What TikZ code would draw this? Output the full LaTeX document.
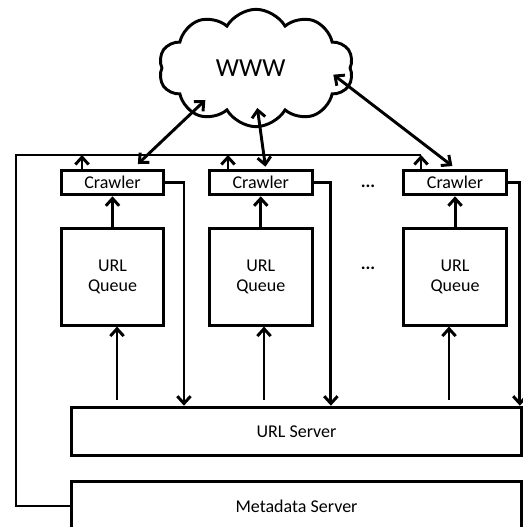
\documentclass[tikz,border=0pt]{standalone}
\usepackage{fontspec}
\setmainfont{Carlito}
\usetikzlibrary{positioning,shapes.symbols,arrows.meta}

\begin{document}
\begin{tikzpicture}[x=0.75pt,y=-0.75pt,>={Straight Barb[length=5.5pt,width=10pt]},line width=2.2pt,
    box node/.style={draw,line width=2.2pt,inner sep=0pt,font=\fontsize{13.5}{15}\selectfont},
    crawler node/.style={box node,minimum width=77pt,minimum height=18.5pt},
    queue node/.style={box node,minimum width=77pt,minimum height=72.5pt,align=center},
    server node/.style={box node,minimum width=338pt,minimum height=36.5pt},
    dots node/.style={font=\fontsize{13.5}{15}\selectfont\bfseries}]

                    \useasboundingbox (0,0) rectangle (523,527);
                    \clip (0,0) rectangle (523,527);

                    \node[cloud, draw, cloud puffs=10, cloud puff arc=120, aspect=1.6, minimum width=146pt, minimum height=88pt, inner sep=0pt, font=\fontsize{19.5}{22}\selectfont] (www) at (256,68){WWW\hspace*{8pt}};

                    \node[crawler node] (c1) at (112.5,182.5){Crawler};
                    \node[crawler node] (c2) [right=32pt of c1]{Crawler};
                    \node[crawler node] (c3) [right=66.5pt of c2]{Crawler};

                    \node[queue node] (q1) [below=23pt of c1]{URL\\Queue};
                    \node[queue node] (q2) [below=23pt of c2]{URL\\Queue};
                    \node[queue node] (q3) [below=23pt of c3]{URL\\Queue};

                    \node[dots node] (d1) at (368,186){...};
                    \node[dots node] (d2) at (368,268){...};

                    \node[server node] (us) at (296.5,431.5){URL Server};
                    \node[server node] (ms) at (296.5,506){Metadata Server};

                    \coordinate (bus) at (16,155);
                    \coordinate (u1) at (82,155);
                    \coordinate (u2) at (228,155);
                    \coordinate (u3) at (421,155);
                    \coordinate (b1) at (117,400);
                    \coordinate (b2) at (264,400);
                    \coordinate (b3) at (449,400);

                    \draw (ms.west) -| (bus) -- (u3);
                    \draw[->] (u1 |- c1.north) to (u1);
                    \draw[->] (u2 |- c2.north) to (u2);
                    \draw[->] (u3 |- c3.north) to (u3);

                    \draw[<->] ([xshift=19pt,yshift=3.5pt]c1.north) to ([xshift=-38pt,yshift=-24pt]www.center);
                    \draw[<->] ([xshift=3.5pt,yshift=1.5pt]c2.north) to ([xshift=1pt,yshift=-30pt]www.center);
                    \draw[<->] ([xshift=-2pt,yshift=2pt]c3.north) to ([xshift=58pt,yshift=-5pt]www.center);

                    \draw[->] (q1) to (c1);
                    \draw[->] (q2) to (c2);
                    \draw[->] (q3) to (c3);

                    \draw[->] (c1.east) -- ++(14pt,0) coordinate (r1) -- (r1 |- us.north);
                    \draw[->] (c2.east) -- ++(13pt,0) coordinate (r2) -- (r2 |- us.north);
                    \draw[->] (c3.east) -- ++(9pt,0) coordinate (r3) -- (r3 |- us.north);

                    \draw[->] (b1) to (b1 |- q1.south);
                    \draw[->] (b2) to (b2 |- q2.south);
                    \draw[->] (b3) to (b3 |- q3.south);

                    ;
                \end{tikzpicture}
\end{document}
